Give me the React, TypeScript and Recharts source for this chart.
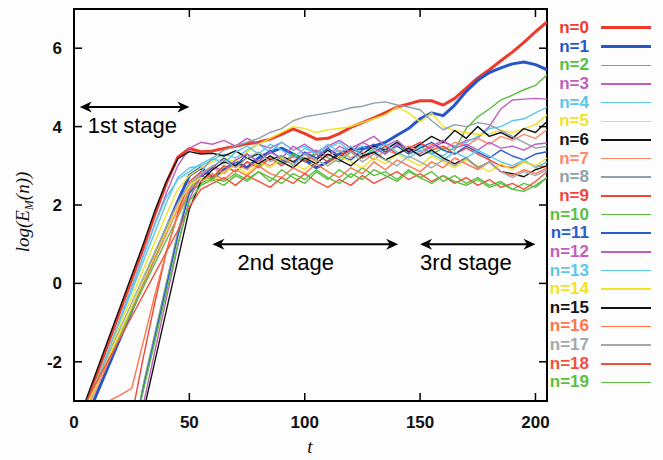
import React from 'react';
import { LineChart, Line, XAxis, YAxis, Legend, ReferenceLine, ReferenceArea } from 'recharts';

const T = [0, 5, 10, 15, 20, 25, 30, 35, 40, 45, 50, 55, 60, 65, 70, 75, 80, 85, 90, 95, 100, 105, 110, 115, 120, 125, 130, 135, 140, 145, 150, 155, 160, 165, 170, 175, 180, 185, 190, 195, 200, 205];

const N0 = [-3.9, -3.1, -2.3, -1.5, -0.7, 0.1, 0.9, 1.75, 2.55, 3.22, 3.44, 3.36, 3.38, 3.44, 3.5, 3.56, 3.6, 3.68, 3.8, 3.94, 3.82, 3.68, 3.7, 3.82, 3.98, 4.1, 4.22, 4.36, 4.5, 4.58, 4.66, 4.66, 4.55, 4.72, 4.98, 5.24, 5.45, 5.68, 5.9, 6.15, 6.42, 6.67];
const N1 = [-4.2, -3.5, -2.8, -2.1, -1.4, -0.7, 0.0, 0.7, 1.4, 2.1, 2.75, 2.95, 2.7, 2.9, 3.1, 2.95, 3.2, 3.35, 3.45, 3.3, 3.15, 2.95, 3.1, 3.3, 3.4, 3.45, 3.5, 3.6, 3.78, 3.95, 4.2, 4.35, 4.28, 4.55, 4.9, 5.18, 5.38, 5.5, 5.6, 5.65, 5.58, 5.45];
const N2 = [null, null, null, null, null, -4.1, -2.6, -1.3, 0.0, 1.3, 2.35, 2.75, 2.65, 3.0, 2.85, 3.1, 3.0, 3.25, 3.05, 3.3, 3.15, 3.35, 3.2, 3.1, 3.35, 3.2, 3.45, 3.3, 3.55, 3.35, 3.5, 3.3, 3.45, 3.4, 3.95, 4.25, 4.45, 4.68, 4.8, 4.94, 5.05, 5.32];
const N3 = [-4.1, -3.3, -2.5, -1.7, -0.9, -0.1, 0.7, 1.5, 2.3, 3.0, 3.45, 3.6, 3.55, 3.65, 3.5, 3.7, 3.55, 3.45, 3.6, 3.4, 3.55, 3.35, 3.5, 3.65, 3.45, 3.6, 3.75, 3.5, 3.65, 3.4, 3.55, 3.45, 3.6, 3.5, 3.65, 3.7, 4.0, 4.45, 4.68, 4.7, 4.72, 4.7];
const N4 = [-4.0, -3.2, -2.45, -1.7, -0.95, -0.2, 0.55, 1.3, 2.05, 2.7, 2.95, 3.0, 3.15, 3.3, 3.2, 3.4, 3.55, 3.35, 3.6, 3.4, 3.5, 3.3, 3.45, 3.6, 3.35, 3.5, 3.3, 3.45, 3.6, 3.4, 3.5, 3.35, 3.25, 3.5, 3.6, 3.75, 3.95, 4.0, 4.15, 4.2, 4.35, 4.5];
const N5 = [-3.9, -3.15, -2.45, -1.75, -1.05, -0.35, 0.35, 1.05, 1.75, 2.4, 2.75, 2.95, 3.1, 3.2, 3.1, 3.35, 3.55, 3.7, 3.85, 4.0, 3.95, 3.85, 3.92, 3.95, 4.0, 4.1, 4.2, 4.3, 4.5, 4.35, 4.12, 4.35, 4.0, 3.9, 3.85, 3.8, 3.82, 3.9, 3.85, 3.95, 4.05, 4.3];
const N6 = [-3.8, -3.0, -2.2, -1.4, -0.6, 0.2, 1.0, 1.85, 2.6, 3.18, 3.36, 3.3, 3.32, 3.25, 3.38, 3.2, 3.3, 3.15, 3.25, 3.1, 3.3, 3.15, 3.4, 3.2, 3.45, 3.3, 3.5, 3.4, 3.6, 3.35, 3.55, 3.75, 3.6, 3.9, 3.7, 4.0, 3.75, 3.85, 3.7, 3.95, 3.85, 4.13];
const N7 = [-4.0, -3.3, -2.65, -2.0, -1.35, -0.7, -0.05, 0.6, 1.25, 1.9, 2.5, 2.75, 2.95, 2.8, 3.05, 2.9, 3.15, 3.0, 3.2, 3.05, 3.3, 3.1, 3.25, 3.4, 3.2, 3.35, 3.15, 3.4, 3.3, 3.5, 3.35, 3.55, 3.4, 3.6, 3.5, 3.7, 3.55, 3.75, 3.65, 3.8, 3.7, 3.92];
const N8 = [null, null, null, null, null, -4.3, -2.6, -1.3, 0.0, 1.3, 2.4, 2.85, 3.2, 3.4, 3.5, 3.6, 3.7, 3.85, 3.95, 4.15, 4.25, 4.3, 4.35, 4.4, 4.48, 4.52, 4.6, 4.63, 4.55, 4.5, 4.43, 4.15, 3.92, 4.05, 4.0, 4.1, 4.05, 3.9, 3.75, 3.6, 3.45, 3.5];
const N9 = [null, null, null, null, null, -3.4, -1.9, -0.5, 0.8, 1.8, 2.6, 2.85, 2.7, 3.0, 2.85, 3.1, 2.95, 3.2, 3.0, 3.25, 3.1, 3.3, 3.1, 3.25, 3.4, 3.2, 3.35, 3.5, 3.3, 3.45, 3.6, 3.4, 3.5, 3.3, 3.45, 3.3, 3.15, 3.0, 2.95, 3.1, 3.0, 2.98];
const N10 = [-3.7, -3.1, -2.5, -1.9, -1.3, -0.7, -0.1, 0.5, 1.1, 1.7, 2.3, 2.55, 2.7, 2.6, 2.8, 2.65, 2.85, 2.6, 2.9, 2.7, 2.55, 2.85, 2.65, 2.9, 2.7, 2.95, 2.75, 2.85, 2.65, 2.9, 2.7, 2.85, 2.6, 2.75, 2.55, 2.7, 2.5, 2.6, 2.4, 2.55, 2.45, 2.7];
const N11 = [null, null, null, null, null, -4.0, -2.7, -1.4, -0.1, 1.2, 2.3, 2.7, 2.95, 3.2, 3.0, 3.3, 3.1, 3.4, 3.15, 3.05, 3.35, 3.2, 3.45, 3.25, 3.15, 3.4, 3.55, 3.35, 3.5, 3.3, 3.45, 3.6, 3.4, 3.3, 3.5, 3.35, 3.2, 3.4, 3.25, 3.15, 3.3, 3.36];
const N12 = [null, null, null, null, null, -4.5, -3.1, -1.75, -0.4, 0.95, 2.15, 2.75, 3.0, 2.85, 3.15, 3.3, 3.1, 3.35, 3.2, 3.5, 3.3, 3.4, 3.25, 3.5, 3.35, 3.6, 3.45, 3.3, 3.55, 3.4, 3.3, 3.5, 3.65, 3.45, 3.55, 3.4, 3.6, 3.45, 3.5, 3.4, 3.55, 3.58];
const N13 = [-4.1, -3.3, -2.5, -1.7, -0.9, -0.1, 0.7, 1.5, 2.2, 2.65, 2.85, 3.05, 3.2, 3.05, 3.35, 3.5, 3.3, 3.55, 3.4, 3.2, 3.45, 3.3, 3.55, 3.35, 3.5, 3.25, 3.4, 3.55, 3.35, 3.2, 3.4, 3.3, 3.15, 3.35, 3.2, 3.4, 3.25, 3.1, 3.0, 3.15, 2.95, 3.1];
const N14 = [-3.85, -3.2, -2.55, -1.9, -1.25, -0.6, 0.05, 0.7, 1.35, 2.0, 2.5, 2.7, 2.6, 2.85, 3.0, 2.8, 3.1, 2.95, 3.2, 3.05, 2.9, 3.15, 3.0, 3.25, 3.1, 2.95, 3.2, 3.05, 3.3, 3.15, 3.0, 3.25, 3.1, 2.95, 3.15, 3.0, 2.85, 3.05, 2.9, 3.1, 3.0, 3.2];
const N15 = [null, null, null, null, null, -4.6, -3.3, -2.0, -0.7, 0.6, 1.9, 2.6, 2.9, 3.1, 3.0, 3.2, 3.05, 3.25, 3.1, 2.95, 3.2, 3.05, 3.3, 3.15, 3.0, 3.25, 3.35, 3.15, 3.3, 3.45, 3.25, 3.4, 3.2, 3.05, 3.2, 2.95, 3.1, 2.85, 2.8, 2.72, 2.9, 3.0];
const N16 = [null, null, -3.15, -3.0, -2.85, -2.68, -1.5, -0.3, 0.8, 1.75, 2.4, 2.6, 2.8, 2.65, 2.9, 2.75, 3.0, 2.8, 2.7, 2.95, 2.8, 3.05, 2.85, 2.7, 2.95, 2.8, 3.1, 2.9, 3.15, 3.0, 2.85, 3.1, 2.95, 3.2, 3.05, 2.9, 3.1, 2.85, 2.75, 2.9, 2.8, 2.95];
const N17 = [-3.75, -3.1, -2.45, -1.8, -1.15, -0.5, 0.15, 0.8, 1.45, 2.05, 2.55, 2.8, 3.0, 3.15, 2.95, 3.2, 3.35, 3.1, 3.25, 3.0, 3.3, 3.15, 3.0, 3.2, 3.35, 3.1, 3.3, 3.15, 3.0, 3.25, 3.1, 2.95, 3.15, 3.0, 3.2, 2.95, 3.1, 2.85, 2.7, 2.85, 2.75, 2.9];
const N18 = [-3.6, -3.05, -2.5, -1.95, -1.4, -0.85, -0.3, 0.25, 0.8, 1.35, 1.95, 2.4, 2.55, 2.7, 2.5, 2.75, 2.6, 2.45, 2.7, 2.55, 2.8, 2.6, 2.45, 2.65, 2.5, 2.75, 2.55, 2.7, 2.85, 2.65, 2.8, 2.6, 2.75, 2.55, 2.7, 2.5, 2.65, 2.45, 2.55, 2.4, 2.6, 2.85];
const N19 = [null, null, null, null, null, -4.0, -2.75, -1.5, -0.25, 1.0, 2.1, 2.5, 2.65, 2.5, 2.75, 2.6, 2.85, 2.7, 2.55, 2.8, 2.65, 2.9, 2.7, 2.55, 2.8, 2.65, 2.9, 2.75, 2.6, 2.85, 2.7, 2.55, 2.75, 2.6, 2.5, 2.65, 2.45, 2.55, 2.4, 2.35, 2.5, 2.7];

const SERIES = [N0, N1, N2, N3, N4, N5, N6, N7, N8, N9, N10, N11, N12, N13, N14, N15, N16, N17, N18, N19];
const SERIES_NAMES = ['n=0', 'n=1', 'n=2', 'n=3', 'n=4', 'n=5', 'n=6', 'n=7', 'n=8', 'n=9', 'n=10', 'n=11', 'n=12', 'n=13', 'n=14', 'n=15', 'n=16', 'n=17', 'n=18', 'n=19'];
const SERIES_COLORS = ['#ee3b2c', '#2856c8', '#5cbf3f', '#c05ec0', '#5ac8e8', '#f2e425', '#141414', '#ff8866', '#8fa0a8', '#f0463a', '#5cbf3f', '#2a5cc8', '#c05ec0', '#5ac8e8', '#f2e425', '#141414', '#ff7448', '#a3a9a9', '#f2503f', '#5cbf3f'];
const SERIES_WIDTHS = [3, 3, 1.4, 1.4, 1.4, 1.4, 1.4, 1.4, 1.4, 1.4, 1.4, 1.4, 1.4, 1.4, 1.4, 1.4, 1.4, 1.4, 1.4, 1.4];

const X_TICKS = [0, 50, 100, 150, 200];
const Y_TICKS = [-2, 0, 2, 4, 6];

const STAGES = [
  { label: '1st stage', from: 2.5, to: 50, y: 4.5, dx: 8 },
  { label: '2nd stage', from: 60, to: 140.5, y: 1.0, dx: 25 },
  { label: '3rd stage', from: 150, to: 200, y: 1.0, dx: 0 },
];

const W = 663;
const H = 460;
const PLOT_TOP = 9;
const PLOT_LEFT = 74;
const PLOT_RIGHT = 547;
const TICK_LEN = 8;
const SANS = 'Liberation Sans, Arial, Helvetica, sans-serif';
const SERIF = 'Liberation Serif, Times New Roman, serif';

const data = T.map((t, i) => {
  const row: Record<string, number | null> = { t };
  SERIES.forEach((s, k) => {
    row['s' + k] = s[i];
  });
  return row;
});

const XTick = (props: any) => {
  const { x, y, payload } = props;
  return (
    <g>
      <line x1={x} y1={y} x2={x} y2={y - TICK_LEN} stroke="#000" strokeWidth={1.5} />
      <line x1={x} y1={PLOT_TOP} x2={x} y2={PLOT_TOP + TICK_LEN} stroke="#000" strokeWidth={1.5} />
      <text x={x} y={y + 27} textAnchor="middle" fontFamily={SANS} fontWeight="bold" fontSize={17} fill="#111">
        {payload.value}
      </text>
    </g>
  );
};

const YTick = (props: any) => {
  const { x, y, payload } = props;
  return (
    <g>
      <line x1={x} y1={y} x2={x + TICK_LEN} y2={y} stroke="#000" strokeWidth={1.5} />
      <line x1={PLOT_RIGHT} y1={y} x2={PLOT_RIGHT - TICK_LEN} y2={y} stroke="#000" strokeWidth={1.5} />
      <text x={x - 12} y={y + 6} textAnchor="end" fontFamily={SANS} fontWeight="bold" fontSize={17} fill="#111">
        {payload.value}
      </text>
    </g>
  );
};

const makeArrow = (label: string, dx: number) => (props: any) => {
  const { x1, y1, x2, y2 } = props;
  const h = 12;
  const w = 5.5;
  return (
    <g>
      <line x1={x1 + 6} y1={y1} x2={x2 - 6} y2={y2} stroke="#000" strokeWidth={2} />
      <polygon points={`${x1},${y1} ${x1 + h},${y1 - w} ${x1 + h * 0.7},${y1} ${x1 + h},${y1 + w}`} fill="#000" />
      <polygon points={`${x2},${y2} ${x2 - h},${y2 - w} ${x2 - h * 0.7},${y2} ${x2 - h},${y2 + w}`} fill="#000" />
      <text x={x1 + dx} y={y1 + 26} fontFamily={SANS} fontSize={22} fill="#000">
        {label}
      </text>
    </g>
  );
};

const LegendContent = (props: any) => {
  const payload = [...(props.payload || [])].sort(
    (a: any, b: any) => SERIES_NAMES.indexOf(a.value) - SERIES_NAMES.indexOf(b.value)
  );
  return (
    <div style={{ display: 'flex', flexDirection: 'column' }}>
      {payload.map((p: any) => {
        const idx = SERIES_NAMES.indexOf(p.value);
        return (
          <div key={p.value} style={{ height: 18.67, display: 'flex', alignItems: 'center' }}>
            <span
              style={{
                width: 49,
                textAlign: 'right',
                color: p.color,
                fontFamily: SANS,
                fontWeight: 'bold',
                fontSize: 17,
                lineHeight: '18px',
                whiteSpace: 'nowrap',
              }}
            >
              {p.value}
            </span>
            <span
              style={{
                marginLeft: 12,
                width: 50,
                height: SERIES_WIDTHS[idx] > 2 ? 3 : 1.5,
                background: p.color,
                display: 'inline-block',
              }}
            />
          </div>
        );
      })}
    </div>
  );
};

const YLabel = () => (
  <text
    x={29}
    y={212}
    transform="rotate(-90, 29, 212)"
    textAnchor="middle"
    fontFamily={SERIF}
    fontStyle="italic"
    fontSize={19}
    fill="#111"
  >
    log(E
    <tspan fontSize={12} dy={4}>M</tspan>
    <tspan dy={-4}>(n))</tspan>
  </text>
);

const XLabel = () => (
  <text x={310} y={453} textAnchor="middle" fontFamily={SERIF} fontStyle="italic" fontSize={19} fill="#111">
    t
  </text>
);

export default function App() {
  return (
    <div style={{ position: 'absolute', left: 0, top: 0, width: W, height: H, background: '#fdfdfd' }}>
      <LineChart width={W} height={H} data={data} margin={{ top: PLOT_TOP, right: W - PLOT_RIGHT, bottom: 0, left: 0 }}>
        <XAxis
          dataKey="t"
          type="number"
          domain={[0, 205]}
          ticks={X_TICKS}
          allowDataOverflow
          height={59}
          tickSize={0}
          tickMargin={0}
          tickLine={false}
          axisLine={{ stroke: '#000', strokeWidth: 2 }}
          tick={XTick}
          interval={0}
          label={{ content: XLabel }}
        />
        <YAxis
          type="number"
          domain={[-3, 7]}
          ticks={Y_TICKS}
          allowDataOverflow
          width={PLOT_LEFT}
          tickSize={0}
          tickMargin={0}
          tickLine={false}
          axisLine={{ stroke: '#000', strokeWidth: 2 }}
          tick={YTick}
          interval={0}
          label={{ content: YLabel }}
        />
        <ReferenceArea x1={0} x2={205} y1={-3} y2={7} fill="none" stroke="#000" strokeWidth={2} ifOverflow="visible" />
        {SERIES.map((_, k) => (
          <Line
            key={k}
            type="linear"
            dataKey={'s' + k}
            name={SERIES_NAMES[k]}
            stroke={SERIES_COLORS[k]}
            strokeWidth={SERIES_WIDTHS[k]}
            dot={false}
            activeDot={false}
            isAnimationActive={false}
            connectNulls={false}
            strokeLinejoin="round"
          />
        ))}
        {STAGES.map((s, i) => (
          <ReferenceLine
            key={'st' + i}
            segment={[{ x: s.from, y: s.y }, { x: s.to, y: s.y }]}
            ifOverflow="visible"
            shape={makeArrow(s.label, s.dx)}
          />
        ))}
        <Legend
          layout="vertical"
          align="center"
          verticalAlign="middle"
          wrapperStyle={{ position: 'absolute', left: 540, top: 18.67, width: 120 }}
          content={LegendContent}
        />
      </LineChart>
    </div>
  );
}
